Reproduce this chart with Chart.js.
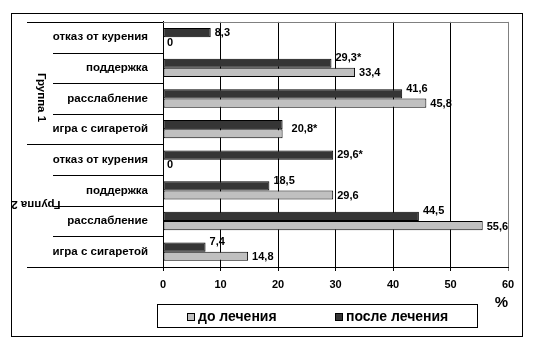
<!DOCTYPE html>
<html lang="ru">
<head>
    <meta charset="UTF-8">
    <title>Группа 1 / Группа 2</title>
    <script src="https://cdn.jsdelivr.net/npm/chart.js"></script>
    <style>
        body {
            margin: 0;
            background: #fff;
            font-family: "Liberation Sans", Arial, sans-serif;
        }
        .wrap {
            position: relative;
            width: 533px;
            height: 342px;
        }
        .legend {
            position: absolute;
            left: 157px;
            top: 304px;
            width: 321px;
            height: 24px;
            box-sizing: border-box;
            border: 1px solid #000;
            font-weight: bold;
            font-size: 14px;
            color: #000;
        }
        .legend span.item {
            position: absolute;
            top: 3px;
            white-space: nowrap;
            line-height: 16px;
        }
        .legend i {
            display: inline-block;
            width: 8px;
            height: 8px;
            border: 1px solid #000;
            box-sizing: border-box;
            margin-right: 3px;
            vertical-align: 0px;
        }
    </style>
</head>
<body>

<div class="wrap">
    <canvas id="chart" width="533" height="342"></canvas>
    <div class="legend" id="legend"></div>
</div>

<script>
    // категории: по 4 в каждой группе
    const groups = ['Группа 1', 'Группа 2'];
    const categories = [
        'отказ от курения', 'поддержка', 'расслабление', 'игра с сигаретой',
        'отказ от курения', 'поддержка', 'расслабление', 'игра с сигаретой'
    ];

    // %, до и после лечения
    const doLecheniya = [0, 33.4, 45.8, 20.8, 0, 29.6, 55.6, 14.8];
    const posleLecheniya = [8.3, 29.3, 41.6, 20.8, 29.6, 18.5, 44.5, 7.4];
    // звёздочка — достоверное различие
    const posleMarks = ['', '*', '', '*', '*', '', '', ''];

    const xTicks = [0, 10, 20, 30, 40, 50, 60];

    const fmt = v => v === 0 ? '0' : v.toFixed(1).replace('.', ',');

    const fontFamily = '"Liberation Sans", Arial, sans-serif';
    const labelFont = 'bold 11px ' + fontFamily;

    // подписи значений у концов столбцов
    const valueLabels = {
        id: 'valueLabels',
        afterDatasetsDraw(chart) {
            const ctx = chart.ctx;
            const posleBars = chart.getDatasetMeta(0).data;
            const doBars = chart.getDatasetMeta(1).data;
            ctx.save();
            ctx.font = labelFont;
            ctx.fillStyle = '#000';
            ctx.textAlign = 'left';
            ctx.textBaseline = 'middle';
            posleLecheniya.forEach((v, i) => {
                const a = posleBars[i], b = doBars[i];
                if (v === doLecheniya[i]) {
                    // одинаковые значения — одна общая подпись
                    ctx.fillText(fmt(v) + posleMarks[i], a.x + 9, (a.y + b.y) / 2);
                    return;
                }
                const dy = doLecheniya[i] === 0 ? 0 : -5;
                ctx.fillText(fmt(v) + posleMarks[i], a.x + 4, a.y + dy);
                ctx.fillText(fmt(doLecheniya[i]), b.x + 4, b.y + 1);
            });
            ctx.restore();
        }
    };

    // рамка, разделители категорий и подписи групп
    const frame = {
        id: 'frame',
        afterDraw(chart) {
            const ctx = chart.ctx;
            const y = chart.scales.y;
            const area = chart.chartArea;
            ctx.save();

            // верхняя граница области построения
            ctx.strokeStyle = '#808080';
            ctx.lineWidth = 1;
            ctx.beginPath();
            ctx.moveTo(area.left, Math.round(area.top) + 0.5);
            ctx.lineTo(area.right, Math.round(area.top) + 0.5);
            ctx.stroke();

            ctx.strokeStyle = '#000';
            for (let i = 0; i <= categories.length; i++) {
                const py = Math.round(y.getPixelForValue(i - 0.5)) + 0.5;
                const x0 = i % 4 === 0 ? 27 : 53;
                ctx.beginPath();
                ctx.moveTo(x0, py);
                ctx.lineTo(area.left, py);
                ctx.stroke();
            }

            ctx.font = 'bold 11.5px ' + fontFamily;
            ctx.fillStyle = '#000';
            ctx.textAlign = 'center';
            ctx.textBaseline = 'middle';

            ctx.save();
            ctx.translate(41, y.getPixelForValue(2) - 1);
            ctx.rotate(Math.PI / 2);
            ctx.fillText(groups[0], 0, 0);
            ctx.restore();

            ctx.save();
            ctx.translate(36, y.getPixelForValue(5.5) - 1.5);
            ctx.rotate(Math.PI);
            ctx.fillText(groups[1], 0, 0);
            ctx.restore();

            // внешняя рамка
            ctx.strokeRect(11.5, 13.5, 511, 323);
            ctx.restore();
        }
    };

    const chart = new Chart(document.getElementById('chart'), {
        type: 'bar',
        data: {
            labels: categories,
            datasets: [
                {
                    label: 'после лечения',
                    data: posleLecheniya,
                    backgroundColor: '#353535',
                    borderColor: '#000',
                    borderWidth: 1,
                    borderSkipped: false
                },
                {
                    label: 'до лечения',
                    data: doLecheniya,
                    backgroundColor: '#c0c0c0',
                    borderColor: '#000',
                    borderWidth: 1,
                    borderSkipped: false
                }
            ]
        },
        options: {
            indexAxis: 'y',
            responsive: false,
            animation: false,
            events: [],
            datasets: {
                bar: { categoryPercentage: 0.6, barPercentage: 1 }
            },
            layout: {
                padding: { top: 16, right: 25, bottom: 32, left: 0 }
            },
            plugins: {
                legend: { display: false },
                tooltip: { enabled: false }
            },
            scales: {
                x: {
                    min: 0,
                    max: 60,
                    afterBuildTicks(scale) {
                        scale.ticks = xTicks.map(v => ({ value: v }));
                    },
                    afterFit(scale) {
                        scale.height = 43;
                    },
                    grid: {
                        color: ctx => ctx.index === xTicks.length - 1 ? '#808080' : '#000',
                        tickLength: 4,
                        lineWidth: 1
                    },
                    border: { color: '#000', width: 1 },
                    ticks: {
                        color: '#000',
                        padding: 7,
                        maxRotation: 0,
                        font: { family: fontFamily, size: 11, weight: 'bold' }
                    },
                    title: {
                        display: true,
                        text: '%',
                        align: 'end',
                        color: '#000',
                        padding: { top: 0, bottom: 0 },
                        font: { family: fontFamily, size: 15, weight: 'bold', lineHeight: 1 }
                    }
                },
                y: {
                    afterFit(scale) {
                        scale.width = 163;
                    },
                    grid: { display: false, drawTicks: false },
                    border: { color: '#000', width: 1 },
                    ticks: {
                        color: '#000',
                        padding: 15,
                        font: { family: fontFamily, size: 11.5, weight: 'bold' }
                    }
                }
            }
        },
        plugins: [valueLabels, frame]
    });

    // легенда: сначала «до лечения», затем «после лечения»
    const legendPos = [187, 335];
    const legend = document.getElementById('legend');
    chart.data.datasets.slice().reverse().forEach((ds, k) => {
        const item = document.createElement('span');
        item.className = 'item';
        item.style.left = (legendPos[k] - 158) + 'px';
        item.innerHTML = '<i style="background:' + ds.backgroundColor + '"></i>' + ds.label;
        legend.appendChild(item);
    });
</script>

</body>
</html>
